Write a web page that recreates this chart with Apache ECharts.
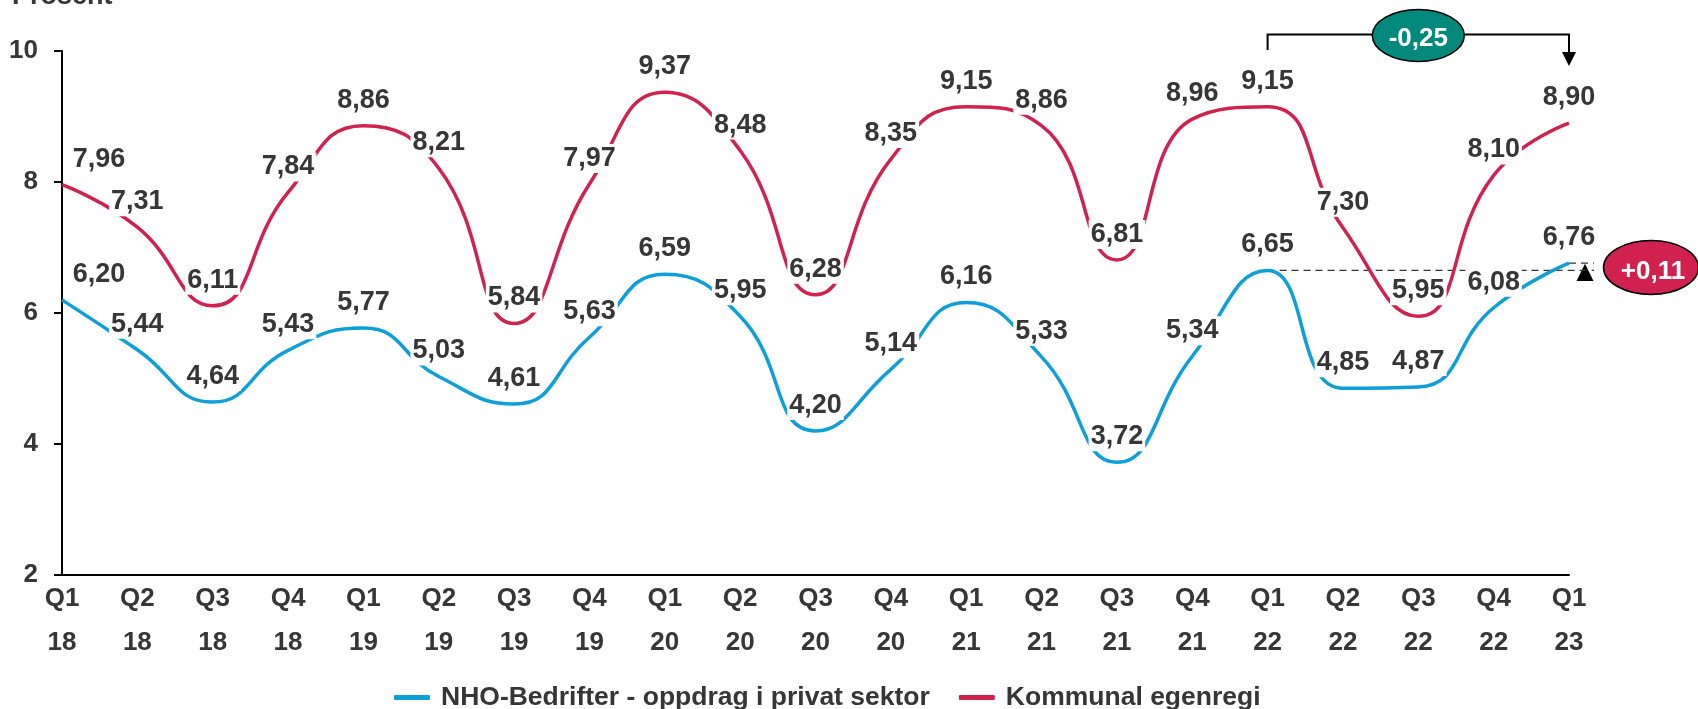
<!DOCTYPE html>
<html>
<head>
<meta charset="utf-8">
<script src="https://cdn.jsdelivr.net/npm/echarts@6/dist/echarts.min.js"></script>
<style>
  html, body { margin: 0; padding: 0; background: #ffffff; }
  #chart { width: 1698px; height: 709px; }
</style>
</head>
<body>
<div id="chart"></div>
<script>
// ---- data ----
const categories = ['Q1\n18','Q2\n18','Q3\n18','Q4\n18','Q1\n19','Q2\n19','Q3\n19','Q4\n19',
  'Q1\n20','Q2\n20','Q3\n20','Q4\n20','Q1\n21','Q2\n21','Q3\n21','Q4\n21',
  'Q1\n22','Q2\n22','Q3\n22','Q4\n22','Q1\n23'];
const nhoValues = [6.20, 5.44, 4.64, 5.43, 5.77, 5.03, 4.61, 5.63, 6.59, 5.95, 4.20,
  5.14, 6.16, 5.33, 3.72, 5.34, 6.65, 4.85, 4.87, 6.08, 6.76];
const kommunalValues = [7.96, 7.31, 6.11, 7.84, 8.86, 8.21, 5.84, 7.97, 9.37, 8.48, 6.28,
  8.35, 9.15, 8.86, 6.81, 8.96, 9.15, 7.30, 5.95, 8.10, 8.90];
const seriesNames = ['NHO-Bedrifter - oppdrag i privat sektor', 'Kommunal egenregi'];
const yMin = 2, yMax = 10, yStep = 2;
const yAxisTitle = 'Prosent';
const compareFrom = 16, compareTo = 20;   // Q1 22 -> Q1 23
const kommunalChangeText = '-0,25';
const nhoChangeText = '+0,11';

// ---- styling ----
const FONT = '"Liberation Sans", Arial, Helvetica, sans-serif';
const TXT = '#363636';
const BLUE = '#0C9FD9';
const RED = '#D1214F';
const TEAL = '#03897C';

const fmt = v => v.toFixed(2).replace('.', ',');

function makeData(values) {
  return values.map((v, i) => i === 0
    ? { value: v, label: { offset: [37, 0] } }
    : v);
}

function lineSeries(name, values, color) {
  return {
    name: name,
    type: 'line',
    data: makeData(values),
    smooth: 0.5,
    symbol: 'circle',
    symbolSize: 0,
    showSymbol: true,
    itemStyle: { color: color },
    lineStyle: { color: color, width: 3.5 },
    label: {
      show: true,
      position: 'top',
      distance: 11,
      formatter: p => fmt(p.value),
      color: TXT,
      fontFamily: FONT,
      fontWeight: 'bold',
      fontSize: 27,
      backgroundColor: '#ffffff',
      padding: [1, 2]
    },
    emphasis: { disabled: true }
  };
}

const chart = echarts.init(document.getElementById('chart'), null, { renderer: 'canvas' });

chart.setOption({
  animation: false,
  backgroundColor: '#ffffff',
  grid: { left: 62, right: 129, top: 51, bottom: 134, containLabel: false },
  legend: {
    left: 389,
    top: 679,
    itemWidth: 36,
    itemHeight: 5,
    itemGap: 29,
    icon: 'roundRect',
    textStyle: { color: TXT, fontFamily: FONT, fontWeight: 'bold', fontSize: 26.5, padding: [0, 0, 0, 6] },
    data: seriesNames
  },
  xAxis: {
    type: 'category',
    data: categories,
    boundaryGap: false,
    axisLine: { show: true, lineStyle: { color: '#000000', width: 2 } },
    axisTick: { show: false },
    axisLabel: {
      color: TXT, fontFamily: FONT, fontWeight: 'bold', fontSize: 26,
      lineHeight: 44, margin: 2, interval: 0
    },
    splitLine: { show: false }
  },
  yAxis: {
    type: 'value',
    min: yMin, max: yMax, interval: yStep,
    axisLine: { show: true, lineStyle: { color: '#000000', width: 2 } },
    axisTick: { show: true, inside: false, length: 8, lineStyle: { color: '#000000', width: 2 } },
    axisLabel: { color: TXT, fontFamily: FONT, fontWeight: 'bold', fontSize: 26, margin: 24 },
    splitLine: { show: false }
  },
  series: [
    lineSeries(seriesNames[0], nhoValues, BLUE),
    lineSeries(seriesNames[1], kommunalValues, RED)
  ]
});

// ---- annotations positioned through the chart's own scales ----
const pFromK = chart.convertToPixel({ gridIndex: 0 }, [compareFrom, kommunalValues[compareFrom]]);
const pToK = chart.convertToPixel({ gridIndex: 0 }, [compareTo, kommunalValues[compareTo]]);
const pFromN = chart.convertToPixel({ gridIndex: 0 }, [compareFrom, nhoValues[compareFrom]]);
const pToN = chart.convertToPixel({ gridIndex: 0 }, [compareTo, nhoValues[compareTo]]);
const topY = chart.convertToPixel({ yAxisIndex: 0 }, yMax);

const xA = pFromK[0], xB = pToK[0];
const brY = topY - 16.5;

const graphics = [
  {
    type: 'text', left: 12, top: -17, silent: true,
    style: { text: yAxisTitle, fill: TXT, font: 'bold 27px ' + FONT }
  },
  // bracket
  {
    type: 'polyline', silent: true,
    shape: { points: [[xA, topY - 1], [xA, brY], [xB, brY], [xB, topY + 2]] },
    style: { stroke: '#000000', lineWidth: 2, fill: null }
  },
  {
    type: 'polygon', silent: true,
    shape: { points: [[xB - 7, topY + 1], [xB + 7, topY + 1], [xB, topY + 15]] },
    style: { fill: '#000000' }
  },
  {
    type: 'ellipse', silent: true,
    shape: { cx: (xA + xB) / 2, cy: brY + 1, rx: 46, ry: 26 },
    style: { fill: TEAL, stroke: '#000000', lineWidth: 1.5 }
  },
  {
    type: 'text', silent: true, x: (xA + xB) / 2, y: brY + 4,
    style: { text: kommunalChangeText, fill: '#ffffff', font: 'bold 26px ' + FONT, align: 'center', verticalAlign: 'middle' }
  },
  // dashed reference lines for NHO
  {
    type: 'line', silent: true, z: 1,
    shape: { x1: pFromN[0], y1: pFromN[1], x2: xB + 25, y2: pFromN[1] },
    style: { stroke: '#333333', lineWidth: 1.2, lineDash: [7, 5] }
  },
  {
    type: 'line', silent: true, z: 1,
    shape: { x1: pToN[0], y1: pToN[1], x2: xB + 25, y2: pToN[1] },
    style: { stroke: '#333333', lineWidth: 1.2, lineDash: [7, 5] }
  },
  {
    type: 'polygon', silent: true,
    shape: { points: [[xB + 16, pToN[1] + 0.5], [xB + 7.5, pFromN[1] + 10.5], [xB + 24.5, pFromN[1] + 10.5]] },
    style: { fill: '#000000' }
  },
  {
    type: 'ellipse', silent: true,
    shape: { cx: xB + 82, cy: pFromN[1] - 3, rx: 47.5, ry: 27 },
    style: { fill: RED, stroke: '#000000', lineWidth: 1.5 }
  },
  {
    type: 'text', silent: true, x: xB + 84, y: pFromN[1] + 1,
    style: { text: nhoChangeText, fill: '#ffffff', font: 'bold 26px ' + FONT, align: 'center', verticalAlign: 'middle' }
  }
];

chart.setOption({ graphic: graphics });
</script>
</body>
</html>
